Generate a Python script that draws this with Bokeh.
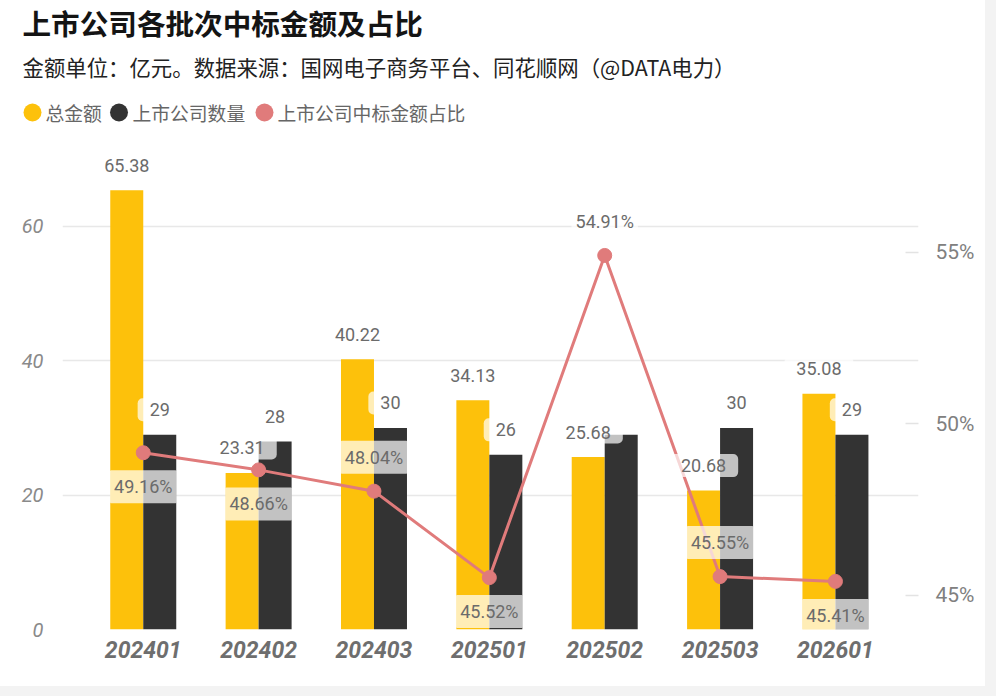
from bokeh.plotting import figure
from bokeh.layouts import column
from bokeh.models import (Range1d, LinearAxis, FixedTicker, PrintfTickFormatter,
                          ColumnDataSource, Label)
from bokeh.core.properties import value
from bokeh.embed import file_html
from bokeh.resources import INLINE

# ---- data ----
periods = ["202401", "202402", "202403", "202501", "202502", "202503", "202601"]
total_amount = [65.38, 23.31, 40.22, 34.13, 25.68, 20.68, 35.08]
company_count = [29, 28, 30, 26, 29, 30, 29]
share_pct = [49.16, 48.66, 48.04, 45.52, 54.91, 45.55, 45.41]

title_text = "上市公司各批次中标金额及占比"
subtitle_text = "金额单位：亿元。数据来源：国网电子商务平台、同花顺网（@DATA电力）"
legend_names = ["总金额", "上市公司数量", "上市公司中标金额占比"]

# ---- style ----
GOLD = "#FDC10B"
DARK = "#333333"
RED = "#E07B7B"
LABEL_GRAY = "#6b6b6b"
CJK = "Noto Sans CJK SC"
NUM = "Roboto"
BAR_W = 0.286
W = 985
HEAD_H = 140
pct_label_side = [1, 1, -1, 1, -1, -1, 1]   # 1 = below point, -1 = above
count_label_visible = [True, True, True, True, False, True, True]

# ================= header (title, subtitle, legend) =================
head = figure(width=W, height=HEAD_H, output_backend="svg", toolbar_location=None,
              x_range=Range1d(0, W), y_range=Range1d(HEAD_H, 0),
              x_axis_type=None, y_axis_type=None, min_border=0, title=None)
head.frame_align = False
head.outline_line_color = None
head.grid.visible = False
head.background_fill_color = "white"
head.border_fill_color = "white"

head.add_layout(Label(x=22, y=HEAD_H - 22, x_units="screen", y_units="screen", text=title_text,
                      text_font=CJK, text_font_size="28.6px", text_font_style="bold",
                      text_color="#141414", text_baseline="middle"))
head.add_layout(Label(x=22, y=HEAD_H - 66, x_units="screen", y_units="screen", text=subtitle_text,
                      text_font=CJK, text_font_size="21.4px", text_color="#222222",
                      text_baseline="middle"))

leg_colors = [GOLD, DARK, RED]
leg_cx = [32, 118.5, 264]
leg_tx = [45, 132, 277]
head.scatter(x=leg_cx, y=[112] * 3, size=18, color=leg_colors, line_color=None)
for name, tx in zip(legend_names, leg_tx):
    head.add_layout(Label(x=tx, y=HEAD_H - 112, x_units="screen", y_units="screen", text=name,
                          text_font=CJK, text_font_size="18.8px", text_color="#666666",
                          text_baseline="middle"))

# ================= chart =================
idx = list(range(len(periods)))
x_gold = [i - BAR_W / 2 for i in idx]
x_dark = [i + BAR_W / 2 for i in idx]

p = figure(width=W, height=546, output_backend="svg", toolbar_location=None,
           x_range=Range1d(-0.70, 6.72), y_range=Range1d(0, 72.8),
           min_border_left=62, min_border_right=67, min_border_top=0,
           min_border_bottom=57, title=None)
p.frame_align = False
p.extra_y_ranges = {"pct": Range1d(44.008, 58.26)}
p.outline_line_color = None
p.background_fill_color = "white"
p.border_fill_color = "white"

# bars
p.vbar(x=x_gold, top=total_amount, width=BAR_W, color=GOLD, line_color=None)
p.vbar(x=x_dark, top=company_count, width=BAR_W, color=DARK, line_color=None)

# line
p.line(x=idx, y=share_pct, y_range_name="pct", line_color=RED, line_width=3)
p.scatter(x=idx, y=share_pct, y_range_name="pct", size=14, color=RED)

label_kw = dict(text_font=value(NUM), text_font_size=value("18px"), text_color=LABEL_GRAY,
                text_align="center", text_baseline="middle",
                background_fill_color="white", background_fill_alpha=0.7)

# gold value labels
src_g = ColumnDataSource(dict(x=x_gold, y=total_amount,
                              t=["%.2f" % v for v in total_amount],
                              yo=[-25] * len(idx)))
p.text(x="x", y="y", text="t", y_offset="yo", source=src_g, padding=(12, 5),
       border_radius=5, **label_kw)

# count labels
cx = [x for x, vis in zip(x_dark, count_label_visible) if vis]
cy = [v for v, vis in zip(company_count, count_label_visible) if vis]
src_c = ColumnDataSource(dict(x=cx, y=cy, t=[str(v) for v in cy], yo=[-25] * len(cx)))
p.text(x="x", y="y", text="t", y_offset="yo", source=src_c, padding=(12, 5),
       border_radius=5, **label_kw)

# pct labels
src_p = ColumnDataSource(dict(x=idx, y=share_pct, t=["%.2f%%" % v for v in share_pct],
                              yo=[34 * s for s in pct_label_side]))
p.text(x="x", y="y", text="t", y_offset="yo", source=src_p, y_range_name="pct",
       padding=(4, 6), border_radius=1, **label_kw)

# axes
p.xaxis.ticker = FixedTicker(ticks=idx)
p.xaxis.major_label_overrides = {i: s for i, s in zip(idx, periods)}
p.xaxis.axis_line_color = None
p.xaxis.major_tick_line_color = None
p.xaxis.minor_tick_line_color = None
p.xaxis.major_label_text_font = NUM
p.xaxis.major_label_text_font_style = "bold italic"
p.xaxis.major_label_text_font_size = "23px"
p.xaxis.major_label_text_color = "#6e6e6e"
p.xaxis.major_label_standoff = 5
p.xgrid.grid_line_color = None

p.yaxis.ticker = FixedTicker(ticks=[0, 20, 40, 60])
p.yaxis.axis_line_color = None
p.yaxis.major_tick_line_color = None
p.yaxis.minor_tick_line_color = None
p.yaxis.major_label_text_font = NUM
p.yaxis.major_label_text_font_style = "italic"
p.yaxis.major_label_text_font_size = "20px"
p.yaxis.major_label_text_color = "#8a8a8a"
p.yaxis.major_label_standoff = 13
p.ygrid.ticker = FixedTicker(ticks=[0, 20, 40, 60])
p.ygrid.grid_line_color = "#e8e8e8"
p.ygrid.grid_line_width = 1.5

ax_r = LinearAxis(y_range_name="pct", ticker=FixedTicker(ticks=[45, 50, 55]),
                  formatter=PrintfTickFormatter(format="%d%%"))
ax_r.axis_line_color = None
ax_r.minor_tick_line_color = None
ax_r.major_tick_in = 13
ax_r.major_tick_out = 0
ax_r.major_tick_line_color = "#e3e3e3"
ax_r.major_tick_line_width = 1.5
ax_r.major_label_text_font = NUM
ax_r.major_label_text_font_size = "21px"
ax_r.major_label_text_color = "#808080"
ax_r.major_label_standoff = 17
p.add_layout(ax_r, "right")

layout = column(head, p, spacing=0, styles={"background-color": "white"})
html = file_html(layout, INLINE)
html = html.replace("</head>",
                    "<style>html, body { background: #f3f3f3 !important; }</style></head>", 1)
open("out.html", "w").write(html)
